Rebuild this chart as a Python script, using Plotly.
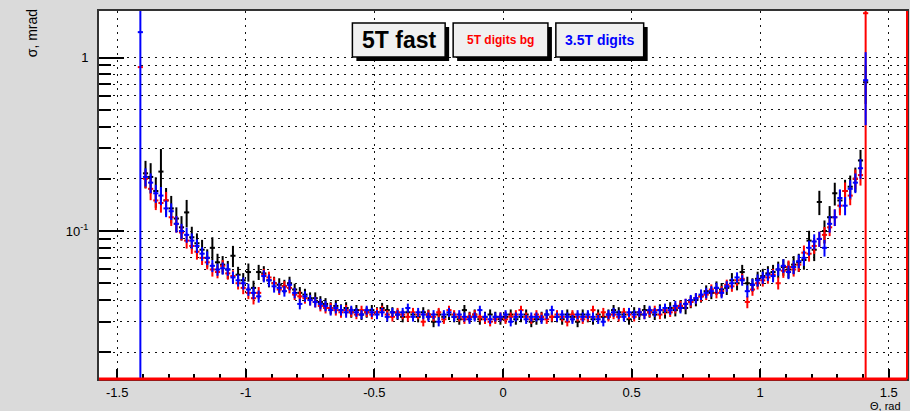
import plotly.graph_objects as go

# bin centres (rad), 0.02 rad bins from -1.41 to 1.41
theta = [round(-1.41 + 0.02 * k, 2) for k in range(142)]

# sigma, mrad  -- "5T fast"
black_vals = [None,
    0.215, 0.205, 0.17, 0.22, 0.15, 0.135, 0.118, 0.105, 0.128, 0.092,
    0.085, 0.078, 0.07, 0.08, 0.066, 0.064, 0.06, 0.072, 0.056, 0.052,
    0.058, 0.047, 0.058, 0.057, 0.052, 0.05, 0.049, 0.048, 0.05, 0.046,
    0.044, 0.043, 0.041, 0.041, 0.039, 0.038, 0.036, 0.037, 0.035, 0.036,
    0.034, 0.035, 0.033, 0.034, 0.035, 0.034, 0.036, 0.035, 0.034, 0.033,
    0.032, 0.034, 0.033, 0.032, 0.034, 0.033, 0.030, 0.033, 0.032, 0.033,
    0.032, 0.031, 0.035, 0.032, 0.033, 0.031, 0.032, 0.033, 0.032, 0.031,
    0.032, 0.033, 0.031, 0.032, 0.033, 0.030, 0.031, 0.032, 0.033, 0.032,
    0.032, 0.031, 0.033, 0.032, 0.030, 0.033, 0.032, 0.031, 0.033, 0.032,
    0.033, 0.035, 0.034, 0.033, 0.031, 0.034, 0.033, 0.035, 0.034, 0.033,
    0.035, 0.034, 0.036, 0.035, 0.037, 0.036, 0.039, 0.040, 0.042, 0.045,
    0.044, 0.047, 0.046, 0.047, 0.052, 0.050, 0.058, 0.050, 0.049, 0.053,
    0.055, 0.057, 0.058, 0.060, 0.062, 0.060, 0.064, 0.066, 0.068, 0.088,
    0.078, 0.147, 0.10, 0.12, 0.165, 0.15, 0.17, 0.18, 0.20, 0.255,
    0.72]
black_pct = [0,
    18, 20, 20, 35, 18, 18, 16, 16, 18, 15,
    14, 14, 12, 15, 12, 12, 12, 14, 11, 10,
    12, 10, 10, 10, 9, 9, 9, 9, 9, 8,
    8, 8, 8, 8, 8, 8, 8, 8, 8, 8,
    7, 7, 7, 7, 7, 7, 7, 7, 7, 7,
    7, 7, 7, 7, 7, 7, 7, 7, 7, 7,
    7, 7, 7, 7, 7, 7, 7, 7, 7, 7,
    7, 7, 7, 7, 7, 7, 7, 7, 7, 7,
    7, 7, 7, 7, 7, 7, 7, 7, 7, 7,
    7, 7, 7, 7, 7, 7, 7, 7, 7, 7,
    8, 8, 8, 8, 8, 8, 8, 8, 8, 8,
    8, 9, 9, 9, 10, 9, 10, 9, 9, 10,
    10, 10, 10, 11, 11, 11, 12, 12, 12, 14,
    14, 16, 15, 16, 15, 15, 16, 16, 16, 15,
    25]

# "5T digits bg"
red_vals = [0.88,
    0.20, 0.175, 0.15, 0.145, 0.15, 0.12, 0.11, 0.098, 0.088, 0.082,
    0.076, 0.07, 0.066, 0.06, 0.058, 0.063, 0.057, 0.055, 0.05, 0.047,
    0.044, 0.041, 0.044, 0.056, 0.054, 0.05, 0.046, 0.048, 0.047, 0.043,
    0.042, 0.041, 0.04, 0.039, 0.037, 0.036, 0.036, 0.035, 0.034, 0.035,
    0.034, 0.033, 0.035, 0.034, 0.033, 0.034, 0.035, 0.033, 0.032, 0.034,
    0.033, 0.032, 0.034, 0.033, 0.030, 0.033, 0.032, 0.034, 0.031, 0.035,
    0.033, 0.032, 0.031, 0.032, 0.033, 0.032, 0.031, 0.030, 0.031, 0.032,
    0.031, 0.032, 0.033, 0.035, 0.032, 0.031, 0.033, 0.032, 0.031, 0.032,
    0.033, 0.032, 0.030, 0.033, 0.032, 0.031, 0.032, 0.035, 0.032, 0.034,
    0.032, 0.033, 0.032, 0.034, 0.033, 0.032, 0.034, 0.033, 0.034, 0.035,
    0.033, 0.035, 0.034, 0.036, 0.037, 0.038, 0.039, 0.041, 0.042, 0.043,
    0.046, 0.044, 0.045, 0.049, 0.048, 0.052, 0.053, 0.039, 0.046, 0.05,
    0.052, 0.054, 0.056, 0.05, 0.059, 0.062, 0.06, 0.064, 0.075, 0.074,
    0.082, 0.09, 0.095, 0.105, 0.12, 0.14, 0.17, 0.16, 0.20, 0.21,
    1.8]
red_pct = [1,
    12, 14, 12, 12, 12, 11, 11, 10, 10, 10,
    10, 9, 9, 9, 8, 8, 8, 8, 8, 8,
    8, 8, 8, 8, 8, 8, 7, 7, 7, 7,
    7, 7, 7, 7, 7, 7, 7, 7, 7, 7,
    6, 6, 6, 6, 6, 6, 6, 6, 6, 6,
    6, 6, 6, 6, 6, 6, 6, 6, 6, 6,
    6, 6, 6, 6, 6, 6, 6, 6, 6, 6,
    6, 6, 6, 6, 6, 6, 6, 6, 6, 6,
    6, 6, 6, 6, 6, 6, 6, 6, 6, 6,
    6, 6, 6, 6, 6, 6, 6, 6, 6, 6,
    6, 6, 6, 7, 7, 7, 7, 7, 7, 7,
    7, 7, 7, 7, 7, 7, 7, 8, 8, 8,
    8, 8, 8, 8, 9, 9, 9, 9, 10, 10,
    10, 10, 11, 11, 11, 12, 12, 12, 13, 13,
    99.9]

# "3.5T digits"
blue_vals = [1.4,
    0.205, 0.19, 0.165, 0.16, 0.135, 0.13, 0.11, 0.10, 0.095, 0.088,
    0.082, 0.074, 0.07, 0.063, 0.06, 0.061, 0.06, 0.054, 0.052, 0.05,
    0.046, 0.044, 0.042, 0.055, 0.052, 0.048, 0.047, 0.045, 0.049, 0.044,
    0.038, 0.042, 0.04, 0.039, 0.038, 0.037, 0.035, 0.036, 0.035, 0.034,
    0.035, 0.034, 0.033, 0.035, 0.034, 0.033, 0.034, 0.032, 0.034, 0.033,
    0.034, 0.036, 0.032, 0.034, 0.033, 0.032, 0.033, 0.030, 0.033, 0.034,
    0.032, 0.033, 0.032, 0.031, 0.032, 0.035, 0.032, 0.031, 0.032, 0.032,
    0.033, 0.030, 0.032, 0.033, 0.031, 0.032, 0.032, 0.031, 0.033, 0.035,
    0.032, 0.033, 0.032, 0.031, 0.033, 0.032, 0.033, 0.032, 0.031, 0.030,
    0.033, 0.034, 0.033, 0.032, 0.034, 0.033, 0.034, 0.033, 0.035, 0.034,
    0.035, 0.036, 0.035, 0.037, 0.036, 0.038, 0.04, 0.041, 0.043, 0.044,
    0.045, 0.047, 0.044, 0.048, 0.05, 0.054, 0.052, 0.045, 0.049, 0.052,
    0.054, 0.056, 0.055, 0.06, 0.063, 0.058, 0.062, 0.067, 0.07, 0.08,
    0.087, 0.09, 0.08, 0.11, 0.12, 0.155, 0.14, 0.175, 0.19, 0.23,
    0.74]
blue_pct = [99.9,
    12, 13, 12, 12, 11, 11, 11, 10, 10, 10,
    9, 9, 9, 8, 8, 8, 8, 8, 8, 8,
    8, 8, 8, 8, 8, 8, 7, 7, 7, 7,
    7, 7, 7, 7, 7, 7, 7, 7, 7, 7,
    6, 6, 6, 6, 6, 6, 6, 6, 6, 6,
    6, 6, 6, 6, 6, 6, 6, 6, 6, 6,
    6, 6, 6, 6, 6, 6, 6, 6, 6, 6,
    6, 6, 6, 6, 6, 6, 6, 6, 6, 6,
    6, 6, 6, 6, 6, 6, 6, 6, 6, 6,
    6, 6, 6, 6, 6, 6, 6, 6, 6, 6,
    6, 6, 6, 7, 7, 7, 7, 7, 7, 7,
    7, 7, 7, 7, 7, 7, 7, 8, 8, 8,
    8, 8, 8, 8, 9, 9, 9, 9, 10, 10,
    10, 10, 11, 11, 11, 12, 12, 12, 13, 13,
    45]

series_names = ["5T fast", "5T digits bg", "3.5T digits"]
series_colors = ["#000000", "#ff0000", "#0000ff"]

x_tickvals = [-1.5, -1, -0.5, 0, 0.5, 1, 1.5]
x_ticktext = ["-1.5", "-1", "-0.5", "0", "0.5", "1", "1.5"]
y_tickvals = [0.1, 1]
y_ticktext = ["10<sup>-1</sup>", "1"]
y_minor_vals = [0.02, 0.03, 0.04, 0.05, 0.06, 0.07, 0.08, 0.09,
                0.2, 0.3, 0.4, 0.5, 0.6, 0.7, 0.8, 0.9]

FONT = "Liberation Sans, Arial, sans-serif"
GRID_DASH = "2px,5px"

fig = go.Figure()
for vals, pct, name, col in zip([black_vals, red_vals, blue_vals],
                                [black_pct, red_pct, blue_pct],
                                series_names, series_colors):
    errs = [None if v is None else v * p / 100.0 for v, p in zip(vals, pct)]
    fig.add_trace(go.Scatter(
        x=theta, y=vals, mode="markers", name=name,
        marker=dict(size=2, color=col),
        error_x=dict(type="constant", value=0.01, thickness=2, width=0, color=col),
        error_y=dict(type="data", array=errs, thickness=2, width=0, color=col),
        showlegend=False, cliponaxis=True,
    ))

fig.update_xaxes(
    range=[-1.5708, 1.5708],
    tickmode="array", tickvals=x_tickvals, ticktext=x_ticktext,
    ticks="inside", ticklen=10, tickwidth=1.5, tickcolor="black",
    minor=dict(dtick=0.1, tick0=0, ticks="inside", ticklen=5, tickwidth=1.5,
               tickcolor="black", showgrid=False),
    showgrid=True, gridcolor="#111111", gridwidth=1.4, griddash=GRID_DASH,
    showline=True, linecolor="#333333", linewidth=2, mirror=True,
    zeroline=False,
    tickfont=dict(family=FONT, size=13, color="black"),
)
fig.update_yaxes(
    type="log", range=[-1.853, 0.268],
    tickmode="array", tickvals=y_tickvals, ticktext=y_ticktext,
    ticks="inside", ticklen=25, tickwidth=2, tickcolor="black",
    minor=dict(tickmode="array", tickvals=y_minor_vals, ticks="inside",
               ticklen=12, tickwidth=2, tickcolor="black",
               showgrid=True, gridcolor="#111111", gridwidth=1.4, griddash=GRID_DASH),
    showgrid=True, gridcolor="#111111", gridwidth=1.4, griddash=GRID_DASH,
    showline=True, linecolor="#333333", linewidth=2, mirror=True,
    zeroline=False, ticklabelstandoff=6,
    tickfont=dict(family=FONT, size=13, color="black"),
)

shapes = [
    dict(type="line", xref="paper", yref="paper", x0=0, x1=1, y0=0, y1=0,
         line=dict(color="#ff0000", width=3), layer="above"),
    dict(type="line", xref="paper", yref="paper", x0=1, x1=1, y0=0, y1=1,
         line=dict(color="#ff0000", width=2), layer="above"),
]
annotations = []

# legend boxes (paper coordinates)
boxes = [
    (0.3136, 0.4284, "5T fast", "#000000", 23),
    (0.4383, 0.5556, "5T digits bg", "#ff0000", 12),
    (0.5654, 0.6741, "3.5T digits", "#0000ff", 14),
]
by0, by1 = 0.875, 0.9674
dx, dy = 4 / 810, 4 / 368
for x0, x1, txt, col, fs in boxes:
    shapes.append(dict(type="rect", xref="paper", yref="paper",
                       x0=x0 + dx, x1=x1 + dx, y0=by0 - dy, y1=by1 - dy,
                       fillcolor="black", line=dict(width=0), layer="above"))
    shapes.append(dict(type="rect", xref="paper", yref="paper",
                       x0=x0, x1=x1, y0=by0, y1=by1,
                       fillcolor="#f0f0f0", line=dict(color="black", width=1.5),
                       layer="above"))
    annotations.append(dict(xref="paper", yref="paper", x=(x0 + x1) / 2,
                            y=(by0 + by1) / 2, text="<b>" + txt + "</b>",
                            showarrow=False, xanchor="center", yanchor="middle",
                            font=dict(family=FONT, size=fs, color=col)))

annotations.append(dict(xref="paper", yref="paper", x=0.995, y=-0.0725,
                        text="Θ, rad", showarrow=False, xanchor="right",
                        yanchor="middle", font=dict(family=FONT, size=11, color="black")))
annotations.append(dict(xref="paper", yref="paper", x=-0.083, y=1.01,
                        text="σ, mrad", showarrow=False, textangle=-90,
                        xanchor="center", yanchor="top",
                        font=dict(family=FONT, size=14, color="black")))

fig.update_layout(
    width=910, height=411,
    margin=dict(l=99, r=1, t=11, b=32),
    paper_bgcolor="#dadada", plot_bgcolor="white",
    shapes=shapes, annotations=annotations,
    showlegend=False,
)

fig.write_html("out.html",
               config={"displayModeBar": False},
               post_script="document.body.style.margin='0';"
                           "document.body.style.background='#dadada';")
